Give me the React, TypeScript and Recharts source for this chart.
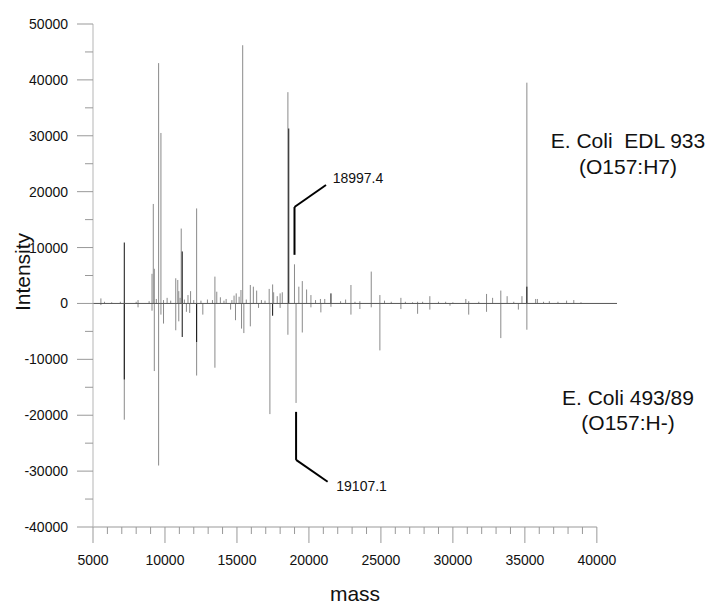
import React from "react";
import {
    Bar,
    ComposedChart,
    Customized,
    ReferenceDot,
    ReferenceLine,
    XAxis,
    YAxis,
} from "recharts";

// peaks: [mass, intensity]
const edlPeaks: [number, number][] = [
    [5550, 900], [5800, 300], [6300, 200], [6900, 300], [8000, 300], [8130, 600],
    [8900, 400], [9100, 5300], [9190, 17800], [9260, 6200], [9400, 800], [9560, 43000],
    [9720, 30500], [9900, 600], [10150, 1000], [10400, 500], [10750, 4500], [10890, 4200],
    [10960, 2200], [11050, 1000], [11130, 13400], [11350, 700], [11600, 1500], [11780, 2200],
    [12000, 600], [12200, 17000], [12500, 500], [12950, 700], [13300, 600], [13470, 4800],
    [13600, 2100], [13850, 1100], [14100, 500], [14250, 800], [14650, 600], [14800, 1400],
    [14950, 1800], [15150, 1200], [15280, 2400], [15400, 46200], [15650, 700], [15930, 3300],
    [16140, 3000], [16370, 2300], [16700, 600], [16950, 500], [17240, 2600], [17480, 3400],
    [17550, 2000], [17800, 1300], [18000, 1800], [18150, 2000], [18540, 37800], [18997.4, 7000],
    [19300, 3000], [19540, 4000], [19840, 2500], [20140, 1500], [20460, 600], [20800, 800],
    [21100, 800], [22200, 400], [22550, 700], [22920, 3300], [23200, 300], [23540, 400],
    [24330, 5700], [24930, 1500], [25250, 500], [25720, 300], [26390, 1000], [26700, 300],
    [27200, 200], [27550, 300], [27900, 300], [28400, 1300], [29000, 300], [29500, 300],
    [30000, 200], [30900, 800], [31100, 400], [31800, 300], [32340, 1700], [32760, 1000],
    [33330, 2300], [33770, 1300], [34230, 300], [34800, 1300], [35140, 39500], [35750, 800],
    [35870, 800], [36300, 300], [36700, 400], [37300, 300], [37900, 500], [38400, 600],
    [38900, 200],
];

const edlDarkPeaks: [number, number][] = [
    [7175, 10900], [11200, 9300], [18600, 31300], [21530, 1800], [35140, 3000],
];

const h157Peaks: [number, number][] = [
    [5550, -300], [7175, -20800], [8130, -700], [9100, -1300], [9260, -12100], [9560, -29000],
    [9720, -2000], [9900, -3600], [10750, -4800], [10960, -3200], [11490, -1500], [11720, -1700],
    [12200, -12900], [12630, -2000], [13470, -11500], [14560, -1100], [14900, -3000], [15320, -4500],
    [15480, -5300], [15930, -4100], [16500, -800], [17290, -19800], [18000, -800], [18540, -5600],
    [19107.1, -17800], [19540, -5200], [20140, -700], [20830, -1600], [21530, -600], [22920, -2000],
    [23540, -1000], [24330, -700], [24930, -8400], [26390, -1000], [27550, -1850], [28400, -1100],
    [29800, -400], [31100, -2000], [32340, -1500], [33330, -6200], [34550, -1100], [35140, -4700],
];

const h157DarkPeaks: [number, number][] = [
    [7175, -13600], [11200, -6000], [12200, -6900], [17480, -2200],
];

const massTicks = [
    5000, 6000, 7000, 8000, 9000, 10000, 11000, 12000, 13000, 14000, 15000, 16000,
    17000, 18000, 19000, 20000, 21000, 22000, 23000, 24000, 25000, 26000, 27000, 28000,
    29000, 30000, 31000, 32000, 33000, 34000, 35000, 36000, 37000, 38000, 39000, 40000,
];

const intensityTicks = [
    -40000, -35000, -30000, -25000, -20000, -15000, -10000, -5000, 0, 5000,
    10000, 15000, 20000, 25000, 30000, 35000, 40000, 45000, 50000,
];

// leader lines for the two labelled peaks
const callouts = [
    { label: "18997.4", mass: 18997.4, from: 8700, knee: 17250, end: [21185, 21200], text: [21650, 22400] },
    { label: "19107.1", mass: 19107.1, from: -19400, knee: -28000, end: [21300, -31900], text: [21900, -32700] },
];

const rows = (() => {
    const map = new Map<number, any>();
    const put = (list: [number, number][], key: string) =>
        list.forEach(([m, v]) => {
            const row = map.get(m) ?? { mass: m };
            row[key] = v;
            map.set(m, row);
        });
    put(edlPeaks, "up");
    put(edlDarkPeaks, "upDark");
    put(h157Peaks, "low");
    put(h157DarkPeaks, "lowDark");
    return [...map.values()].sort((a, b) => a.mass - b.mass);
})();

const FONT = "'Liberation Sans', Arial, sans-serif";

const peakLine = (color: string) => (p: any) => {
    if (p.height == null || !p.height) return <g />;
    const cx = p.x + p.width / 2;
    return <line x1={cx} x2={cx} y1={p.y} y2={p.y + p.height} stroke={color} strokeWidth={1} />;
};

const MassTick = (props: any) => {
    const { x, y, payload } = props;
    const major = payload.value % 5000 === 0;
    return (
        <g>
            <line x1={x} x2={x} y1={y} y2={y + (major ? 16 : 7)} stroke="#999" />
            {major && (
                <text x={x} y={y + 33} textAnchor="middle" dominantBaseline="central" fontSize={14} fill="#111" fontFamily={FONT}>
                    {payload.value}
                </text>
            )}
        </g>
    );
};

const IntensityTick = (props: any) => {
    const { x, y, payload } = props;
    const major = payload.value % 10000 === 0;
    return (
        <g>
            <line x1={x - (major ? 16 : 8)} x2={x} y1={y} y2={y} stroke="#999" />
            {major && (
                <text x={x - 25} y={y} textAnchor="end" dominantBaseline="central" fontSize={14} fill="#111" fontFamily={FONT}>
                    {payload.value}
                </text>
            )}
        </g>
    );
};

const Titles = () => (
    <g fontFamily={FONT} fill="#111" fontSize={21} textAnchor="middle">
        <text x={22} y={272} transform="rotate(-90 22 272)" dominantBaseline="central">Intensity</text>
        <text x={355} y={593} dominantBaseline="central">mass</text>
        <text x={628} y={140} dominantBaseline="central" xmlSpace="preserve">{"E. Coli\u00a0 EDL 933"}</text>
        <text x={628} y={166} dominantBaseline="central">(O157:H7)</text>
        <text x={628} y={397} dominantBaseline="central">E. Coli 493/89</text>
        <text x={628} y={422} dominantBaseline="central">(O157:H-)</text>
    </g>
);

export default function App() {
    const hiddenAxes = ["b", "c", "d"];
    return (
        <div style={{ position: "absolute", left: 0, top: 0 }}>
            <ComposedChart
                width={720}
                height={614}
                data={rows}
                margin={{ top: 24, right: 103, bottom: 0, left: 0 }}
                style={{ fontFamily: FONT }}
            >
                <XAxis
                    xAxisId="a"
                    dataKey="mass"
                    type="number"
                    domain={[5000, 41400]}
                    ticks={massTicks}
                    interval={0}
                    tick={<MassTick />}
                    tickLine={false}
                    axisLine={false}
                    tickSize={0}
                    tickMargin={0}
                    height={87}
                />
                {hiddenAxes.map((id) => (
                    <XAxis key={id} xAxisId={id} dataKey="mass" type="number" domain={[5000, 41400]} hide />
                ))}
                <YAxis
                    type="number"
                    domain={[-40000, 50000]}
                    ticks={intensityTicks}
                    interval={0}
                    tick={<IntensityTick />}
                    tickLine={false}
                    tickSize={0}
                    tickMargin={0}
                    axisLine={{ stroke: "#b5b5b5" }}
                    width={93}
                />
                <ReferenceLine xAxisId="a" y={0} stroke="#555" />
                <ReferenceLine
                    xAxisId="a"
                    segment={[{ x: 5000, y: -40000 }, { x: 40000, y: -40000 }]}
                    stroke="#999"
                    ifOverflow="visible"
                />
                <Bar xAxisId="a" dataKey="up" barSize={1} isAnimationActive={false} shape={peakLine("#8a8a8a")} />
                <Bar xAxisId="b" dataKey="low" barSize={1} isAnimationActive={false} shape={peakLine("#8a8a8a")} />
                <Bar xAxisId="c" dataKey="upDark" barSize={1} isAnimationActive={false} shape={peakLine("#111")} />
                <Bar xAxisId="d" dataKey="lowDark" barSize={1} isAnimationActive={false} shape={peakLine("#111")} />
                {callouts.map((c) => (
                    <ReferenceLine
                        key={c.label + "v"}
                        xAxisId="a"
                        segment={[{ x: c.mass, y: c.from }, { x: c.mass, y: c.knee }]}
                        stroke="#000"
                        strokeWidth={2}
                        ifOverflow="visible"
                    />
                ))}
                {callouts.map((c) => (
                    <ReferenceLine
                        key={c.label + "d"}
                        xAxisId="a"
                        segment={[{ x: c.mass, y: c.knee }, { x: c.end[0], y: c.end[1] }]}
                        stroke="#000"
                        strokeWidth={2}
                        ifOverflow="visible"
                    />
                ))}
                {callouts.map((c) => (
                    <ReferenceDot
                        key={c.label}
                        xAxisId="a"
                        x={c.text[0]}
                        y={c.text[1]}
                        r={0}
                        fill="none"
                        stroke="none"
                        label={{ value: c.label, position: "right", offset: 0, fontSize: 14, fill: "#111" }}
                    />
                ))}
                <Customized component={<Titles />} />
            </ComposedChart>
        </div>
    );
}
